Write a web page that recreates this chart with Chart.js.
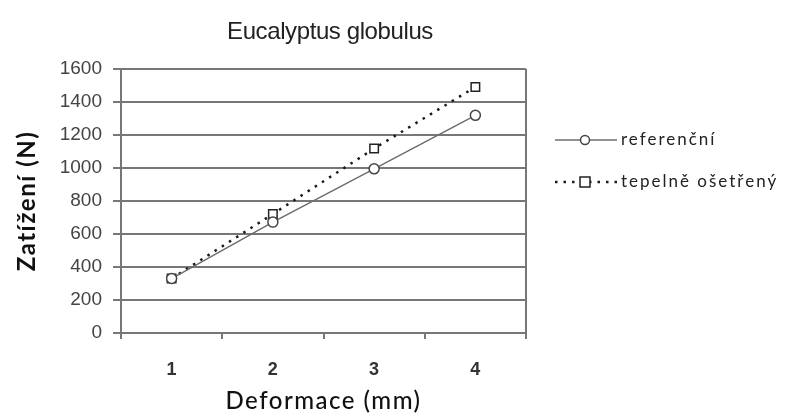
<!DOCTYPE html>
<html>
<head>
<meta charset="utf-8">
<script src="https://cdn.jsdelivr.net/npm/chart.js@4"></script>
<style>
  html, body { margin: 0; padding: 0; background: #fff; }
  #wrap { width: 787px; height: 414px; }
</style>
</head>
<body>
<div id="wrap"><canvas id="chart" width="787" height="414"></canvas></div>
<script>
/* Eucalyptus globulus — load vs. deformation, two series */
const categories   = ["1", "2", "3", "4"];
const referencni   = [330, 672, 995, 1319];
const osetreny     = [330, 721, 1118, 1491];
const seriesNames  = ["referenční", "tepelně ošetřený"];
const yTicks       = [0, 200, 400, 600, 800, 1000, 1200, 1400, 1600];
const xTitle       = "Deformace (mm)";
const yTitle       = "Zatížení (N)";
const chartTitle   = "Eucalyptus globulus";

const GRID = "#777";
const calibriLike = "Lato, 'Noto Sans', sans-serif";

// titles, right border and the line+marker legend.
// Drawn by hand because the original (Calibri) text is letter-spaced and
// the Chart.js legend can't draw a line with a marker in the middle.
const extras = {
  id: "extras",
  afterDraw(chart) {
    const ctx = chart.ctx;
    const a = chart.chartArea;
    ctx.save();

    ctx.strokeStyle = GRID;
    ctx.lineWidth = 2;
    ctx.beginPath();
    ctx.moveTo(a.right, a.top);
    ctx.lineTo(a.right, a.bottom);
    ctx.stroke();

    ctx.textAlign = "center";
    ctx.textBaseline = "middle";

    ctx.fillStyle = "#222";
    ctx.font = "24px 'Liberation Sans', Arial, sans-serif";
    ctx.letterSpacing = "-0.4px";
    ctx.fillText(chartTitle, 330, 32);

    ctx.fillStyle = "#111";
    ctx.font = "500 24px " + calibriLike;
    ctx.letterSpacing = "1.5px";
    ctx.fillText(xTitle, (a.left + a.right) / 2, 401);

    ctx.save();
    ctx.translate(27, (a.top + a.bottom) / 2);
    ctx.rotate(-Math.PI / 2);
    ctx.font = "bold 24px " + calibriLike;
    ctx.fillText(yTitle, 0, 0);
    ctx.restore();

    // legend
    const rows = [140, 182];
    chart.data.datasets.forEach((ds, i) => {
      const y = rows[i];
      ctx.strokeStyle = ds.borderColor;
      ctx.lineWidth = ds.borderWidth;
      ctx.setLineDash(ds.borderDash || []);
      ctx.beginPath();
      ctx.moveTo(555, y);
      ctx.lineTo(617, y);
      ctx.stroke();
      ctx.setLineDash([]);
      ctx.fillStyle = "#fff";
      ctx.strokeStyle = ds.pointBorderColor;
      ctx.lineWidth = 1.5;
      ctx.beginPath();
      if (ds.pointStyle === "rect") {
        ctx.rect(580, y - 5, 10, 10);
      } else {
        ctx.arc(585, y, 4.5, 0, Math.PI * 2);
      }
      ctx.fill();
      ctx.stroke();

      ctx.fillStyle = "#222";
      ctx.font = "17px " + calibriLike;
      ctx.letterSpacing = "2px";
      ctx.textAlign = "left";
      ctx.fillText(ds.label, 621, y);
    });
    ctx.restore();
  }
};

new Chart(document.getElementById("chart"), {
  type: "line",
  data: {
    labels: categories,
    datasets: [
      {
        label: seriesNames[0],
        data: referencni,
        borderColor: "#6e6e6e",
        borderWidth: 1.5,
        pointStyle: "circle",
        pointRadius: 5,
        pointBackgroundColor: "#fff",
        pointBorderColor: "#444",
        pointBorderWidth: 1.5,
      },
      {
        label: seriesNames[1],
        data: osetreny,
        borderColor: "#1a1a1a",
        borderWidth: 2.5,
        borderDash: [2.5, 6],
        pointStyle: "rect",
        pointRadius: 6,
        pointBackgroundColor: "#fff",
        pointBorderColor: "#222",
        pointBorderWidth: 1.5,
      },
    ],
  },
  options: {
    responsive: false,
    animation: false,
    layout: { padding: { left: 0, right: 261, top: 69, bottom: 0 } },
    plugins: { legend: { display: false }, title: { display: false }, tooltip: { enabled: false } },
    scales: {
      x: {
        offset: true,
        grid: { display: true, drawOnChartArea: false, offset: true, color: GRID, lineWidth: 2, tickLength: 6 },
        border: { color: GRID, width: 2 },
        ticks: { color: "#333", font: { family: "'Liberation Sans', Arial", size: 18, weight: "bold" }, padding: 20 },
        title: { display: false },
        afterFit(scale) { scale.height = 81; },
      },
      y: {
        min: 0, max: 1600,
        afterBuildTicks(scale) { scale.ticks = yTicks.map(v => ({ value: v })); },
        grid: { color: GRID, lineWidth: 2, tickLength: 8 },
        border: { color: GRID, width: 2 },
        ticks: {
          color: "#444", font: { family: "'Liberation Sans', Arial", size: 19 }, padding: 11,
          callback: v => String(v),
        },
        title: { display: false },
        afterFit(scale) { scale.width = 121; },
      },
    },
  },
  plugins: [extras],
});
</script>
</body>
</html>
